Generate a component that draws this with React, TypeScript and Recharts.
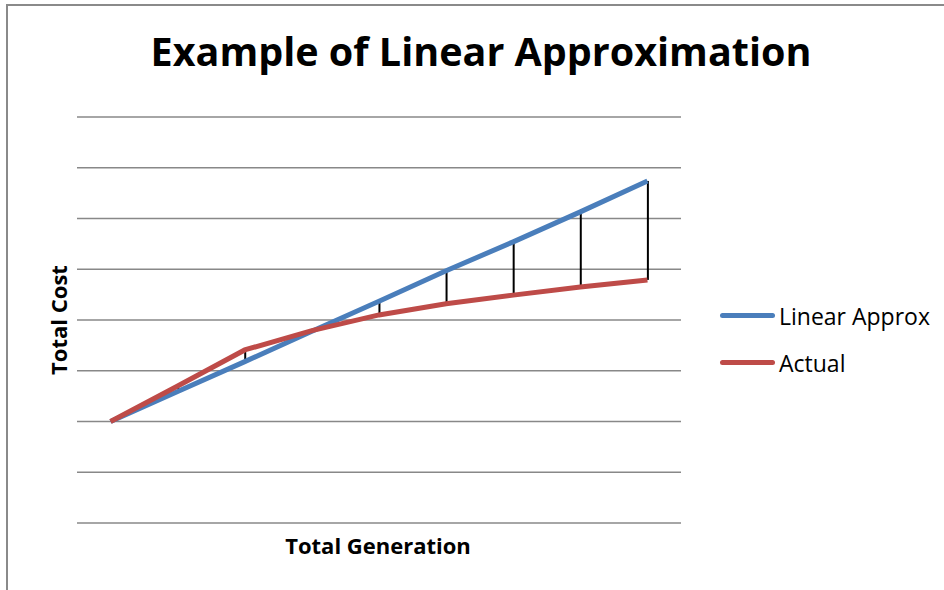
import { ComposedChart, Line, Bar, XAxis, YAxis, CartesianGrid, Legend } from 'recharts';

// generation steps along the x axis (no tick labels shown in the chart)
const generationSteps = [1, 2, 3, 4, 5, 6, 7, 8, 9];
const linearApprox = [2.0, 2.59, 3.18, 3.78, 4.37, 4.97, 5.54, 6.13, 6.74];
const actualCost = [2.0, 2.7, 3.41, 3.79, 4.1, 4.32, 4.49, 4.65, 4.79];
const costTicks = [0, 1, 2, 3, 4, 5, 6, 7, 8];
const legendOrder = ['Linear Approx', 'Actual'];

const chartData = generationSteps.map((g, i) => ({
  generation: g,
  linear: linearApprox[i],
  actual: actualCost[i],
  gap: [Math.min(actualCost[i], linearApprox[i]), Math.max(actualCost[i], linearApprox[i])],
}));

const FONT = '"Open Sans", "Liberation Sans", sans-serif';

const renderLegend = (props: any) => {
  const items = (props.payload || [])
    .filter((p: any) => legendOrder.includes(p.value))
    .sort((a: any, b: any) => legendOrder.indexOf(a.value) - legendOrder.indexOf(b.value));
  return (
    <div style={{ width: 224 }}>
      {items.map((item: any) => (
        <div key={item.value} style={{ display: 'flex', alignItems: 'center', height: 47 }}>
          <div style={{ width: 55, height: 5, borderRadius: 3, background: item.color, marginRight: 4 }} />
          <span style={{ fontFamily: FONT, fontSize: 23, color: '#000' }}>{item.value}</span>
        </div>
      ))}
    </div>
  );
};

export default function App() {
  return (
    <div style={{ position: 'absolute', left: 0, top: 0, width: 944, height: 590, background: '#fff', overflow: 'hidden' }}>
      <div
        style={{
          position: 'absolute',
          left: 6,
          top: 4,
          width: 960,
          height: 620,
          borderLeft: '2px solid #8a8a8a',
          borderTop: '2px solid #8a8a8a',
        }}
      />
      <div
        style={{
          position: 'absolute',
          left: 0,
          width: 962,
          top: 28,
          textAlign: 'center',
          fontFamily: FONT,
          fontWeight: 700,
          fontSize: 39.5,
          lineHeight: '46px',
          color: '#000',
        }}
      >
        Example of Linear Approximation
      </div>
      <div
        style={{
          position: 'absolute',
          left: 58,
          top: 320,
          transform: 'translate(-50%, -50%) rotate(-90deg)',
          whiteSpace: 'nowrap',
          fontFamily: FONT,
          fontWeight: 700,
          fontSize: 22,
          color: '#000',
        }}
      >
        Total Cost
      </div>
      <div
        style={{
          position: 'absolute',
          left: 378,
          top: 545,
          transform: 'translate(-50%, -50%)',
          whiteSpace: 'nowrap',
          fontFamily: FONT,
          fontWeight: 700,
          fontSize: 22,
          color: '#000',
        }}
      >
        Total Generation
      </div>
      <div style={{ position: 'absolute', left: 0, top: 0 }}>
        <ComposedChart
          width={944}
          height={590}
          data={chartData}
          margin={{ top: 117, right: 39, bottom: 67, left: 77 }}
        >
          <CartesianGrid vertical={false} stroke="#888888" strokeWidth={1.5} />
          <XAxis dataKey="generation" type="category" hide />
          <YAxis type="number" domain={[0, 8]} ticks={costTicks} hide />
          <Line
            type="linear"
            dataKey="linear"
            name="Linear Approx"
            stroke="#4a7ebb"
            strokeWidth={5}
            dot={false}
            isAnimationActive={false}
          />
          <Line
            type="linear"
            dataKey="actual"
            name="Actual"
            stroke="#be4b48"
            strokeWidth={5}
            dot={false}
            isAnimationActive={false}
          />
          <Bar dataKey="gap" barSize={2} fill="#000" isAnimationActive={false} legendType="none" />
          <Legend
            layout="vertical"
            align="right"
            verticalAlign="middle"
            content={renderLegend}
            wrapperStyle={{ left: 720, top: 292, width: 224 }}
          />
        </ComposedChart>
      </div>
    </div>
  );
}
